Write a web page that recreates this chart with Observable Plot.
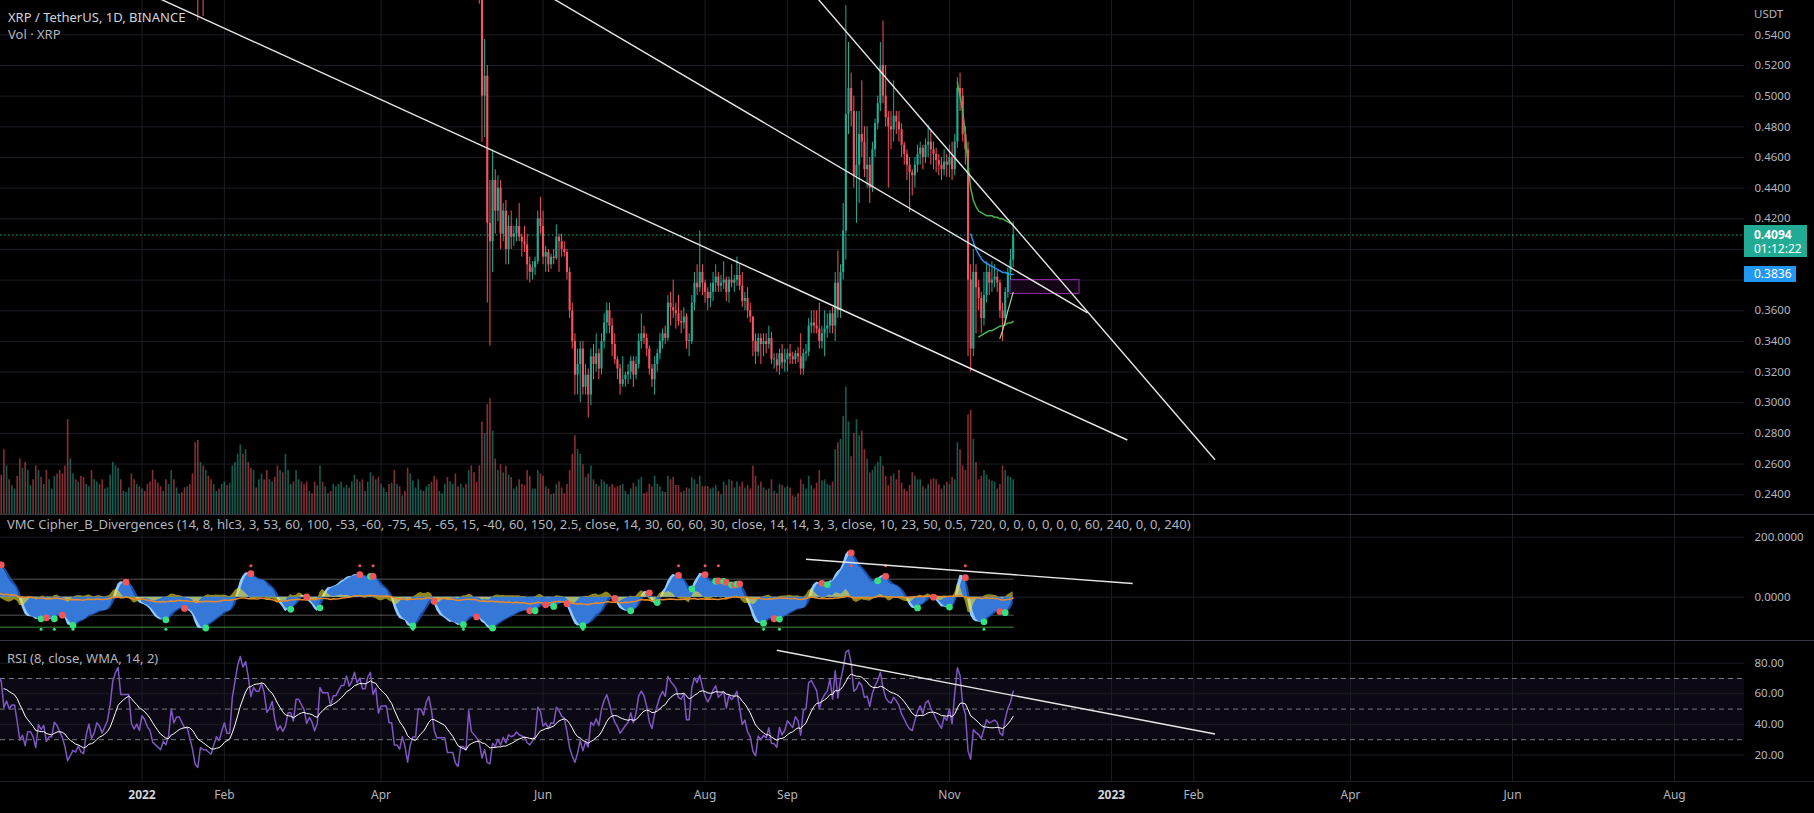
<!DOCTYPE html>
<html>
<head>
<meta charset="utf-8">
<script src="https://cdn.jsdelivr.net/npm/d3@7"></script>
<script src="https://cdn.jsdelivr.net/npm/@observablehq/plot@0.6"></script>
<style>
  html, body { margin:0; padding:0; background:#000; }
  #chart { position:relative; width:1814px; height:813px; background:#000; overflow:hidden; font-family:"Noto Sans", sans-serif; }
  #chart svg { position:absolute; left:0; }
  .t { position:absolute; white-space:nowrap; line-height:16px; height:16px; }
  .sep { position:absolute; left:0; width:1814px; height:1px; background:#363a45; }
  .tag { position:absolute; left:1744px; color:#fff; font-size:12px; box-sizing:border-box; padding-left:10px; }
</style>
</head>
<body>
<div id="chart"></div>
<script>
// ---------------- DATA (daily XRP/USDT, Binance) ----------------
const startDate = "2021-10-20";
const firstOpen = 1.12;
const closes = [
  // Oct 20 - Nov 9 2021
  1.10,1.09,1.06,1.10,1.09,1.11,1.10,1.00,1.05,1.08,1.10,1.08,1.12,1.10,1.18,1.18,1.20,1.23,1.26,1.25,1.24,
  // Nov 10 - 30
  1.18,1.20,1.18,1.19,1.19,1.15,1.08,1.09,1.04,1.07,1.07,1.05,1.00,1.05,1.03,1.04,0.97,0.98,0.98,1.01,1.00,
  // Dec
  0.98,0.96,0.92,0.82,0.83,0.84,0.83,0.84,0.81,0.80,0.83,0.85,0.80,0.81,0.83,0.82,0.80,0.81,0.82,0.85,0.92,0.96,0.99,0.93,0.93,0.93,0.93,0.86,0.84,0.85,0.83,
  // Jan 2022
  0.86,0.85,0.83,0.82,0.78,0.77,0.76,0.75,0.76,0.75,0.76,0.80,0.77,0.78,0.78,0.77,0.76,0.76,0.74,0.71,0.63,0.60,0.63,0.62,0.62,0.61,0.60,0.61,0.62,0.61,0.62,
  // Feb
  0.63,0.61,0.61,0.66,0.70,0.77,0.84,0.82,0.86,0.83,0.78,0.82,0.81,0.81,0.84,0.82,0.77,0.78,0.80,0.75,0.71,0.72,0.70,0.71,0.74,0.74,0.72,0.77,
  // Mar
  0.77,0.76,0.75,0.72,0.73,0.72,0.70,0.71,0.79,0.78,0.78,0.78,0.76,0.78,0.78,0.79,0.80,0.80,0.82,0.81,0.82,0.84,0.83,0.84,0.83,0.83,0.85,0.86,0.84,0.85,0.82,
  // Apr
  0.83,0.83,0.83,0.81,0.81,0.77,0.77,0.76,0.77,0.75,0.69,0.71,0.72,0.72,0.76,0.76,0.75,0.77,0.78,0.76,0.72,0.70,0.70,0.70,0.70,0.66,0.66,0.66,0.62,0.60,
  // May
  0.62,0.62,0.61,0.66,0.61,0.60,0.59,0.575,0.50,0.513,0.417,0.405,0.445,0.425,0.44,0.41,0.425,0.40,0.415,0.408,0.41,0.415,0.408,0.405,0.403,0.39,0.385,0.388,0.392,0.42,0.415,
  // Jun
  0.395,0.398,0.39,0.395,0.394,0.408,0.405,0.40,0.398,0.385,0.36,0.34,0.318,0.325,0.335,0.31,0.318,0.305,0.33,0.325,0.332,0.322,0.34,0.352,0.36,0.35,0.338,0.328,0.322,0.312,
  // Jul
  0.315,0.318,0.32,0.327,0.318,0.325,0.34,0.345,0.342,0.335,0.322,0.315,0.325,0.332,0.34,0.345,0.342,0.365,0.362,0.36,0.358,0.353,0.352,0.356,0.34,0.34,0.365,0.378,0.375,0.385,0.378,
  // Aug
  0.372,0.368,0.372,0.378,0.382,0.376,0.378,0.38,0.372,0.38,0.378,0.38,0.383,0.376,0.366,0.368,0.36,0.356,0.34,0.333,0.342,0.338,0.34,0.338,0.342,0.328,0.328,0.324,0.332,0.326,0.328,
  // Sep
  0.332,0.33,0.328,0.332,0.33,0.322,0.332,0.333,0.35,0.352,0.35,0.348,0.34,0.345,0.348,0.35,0.358,0.35,0.378,0.36,0.385,0.412,0.488,0.505,0.49,0.448,0.455,0.475,0.47,0.452,
  // Oct
  0.455,0.44,0.465,0.482,0.495,0.52,0.50,0.486,0.48,0.478,0.487,0.483,0.478,0.468,0.462,0.455,0.45,0.448,0.455,0.462,0.466,0.46,0.468,0.47,0.465,0.462,0.458,0.455,0.452,0.457,0.455,
  // Nov 1 - 25
  0.46,0.452,0.47,0.505,0.50,0.475,0.465,0.38,0.335,0.385,0.375,0.368,0.355,0.37,0.385,0.378,0.38,0.382,0.378,0.36,0.355,0.372,0.385,0.393,0.4094
];
const highs = [
  1.13,1.12,1.10,1.12,1.11,1.13,1.13,1.10,1.07,1.10,1.12,1.11,1.14,1.13,1.20,1.20,1.22,1.25,1.28,1.28,1.27,
  1.35,1.23,1.21,1.21,1.21,1.21,1.16,1.11,1.10,1.09,1.09,1.09,1.06,1.07,1.07,1.06,1.05,1.00,1.00,1.03,1.05,
  1.01,0.99,0.97,0.92,0.86,0.86,0.86,0.86,0.85,0.84,0.84,0.86,0.86,0.83,0.84,0.85,0.83,0.82,0.84,0.86,0.93,0.98,1.00,1.00,0.95,0.95,0.95,0.93,0.87,0.87,0.86,
  0.87,0.87,0.86,0.84,0.83,0.79,0.78,0.77,0.77,0.76,0.77,0.81,0.81,0.79,0.79,0.79,0.77,0.77,0.77,0.76,0.72,0.64,0.64,0.63,0.64,0.66,0.63,0.62,0.63,0.63,0.63,
  0.64,0.64,0.62,0.67,0.72,0.78,0.86,0.90,0.91,0.88,0.84,0.83,0.83,0.82,0.85,0.85,0.83,0.80,0.82,0.80,0.76,0.73,0.74,0.72,0.76,0.77,0.76,0.78,
  0.79,0.79,0.77,0.75,0.74,0.74,0.73,0.72,0.80,0.80,0.79,0.79,0.79,0.79,0.79,0.80,0.81,0.81,0.83,0.83,0.83,0.85,0.85,0.85,0.86,0.85,0.86,0.89,0.87,0.87,0.86,
  0.84,0.85,0.84,0.84,0.83,0.81,0.78,0.78,0.78,0.78,0.75,0.72,0.73,0.73,0.77,0.77,0.77,0.78,0.79,0.79,0.77,0.73,0.71,0.71,0.71,0.71,0.67,0.68,0.67,0.62,
  0.63,0.64,0.63,0.67,0.67,0.62,0.60,0.59,0.58,0.537,0.52,0.445,0.465,0.452,0.448,0.445,0.43,0.432,0.422,0.425,0.415,0.42,0.43,0.41,0.415,0.41,0.395,0.392,0.395,0.425,0.434,
  0.425,0.402,0.40,0.397,0.40,0.416,0.41,0.41,0.405,0.40,0.388,0.365,0.345,0.335,0.34,0.34,0.325,0.322,0.335,0.338,0.345,0.335,0.345,0.358,0.365,0.365,0.355,0.345,0.33,0.325,
  0.33,0.32,0.325,0.33,0.33,0.33,0.345,0.358,0.35,0.345,0.337,0.325,0.33,0.335,0.345,0.348,0.35,0.37,0.372,0.38,0.365,0.37,0.36,0.362,0.358,0.345,0.37,0.385,0.39,0.412,0.39,
  0.38,0.375,0.378,0.385,0.39,0.385,0.383,0.392,0.382,0.382,0.39,0.383,0.395,0.39,0.385,0.372,0.375,0.365,0.356,0.345,0.345,0.345,0.345,0.345,0.35,0.346,0.332,0.332,0.335,0.338,0.335,
  0.335,0.338,0.333,0.334,0.336,0.345,0.335,0.338,0.355,0.36,0.36,0.36,0.365,0.35,0.36,0.358,0.36,0.362,0.385,0.399,0.39,0.43,0.559,0.535,0.515,0.50,0.49,0.49,0.51,0.48,
  0.48,0.46,0.47,0.485,0.50,0.535,0.549,0.52,0.49,0.49,0.51,0.49,0.49,0.482,0.47,0.465,0.46,0.452,0.46,0.468,0.47,0.468,0.472,0.481,0.478,0.47,0.466,0.462,0.46,0.465,0.462,
  0.468,0.47,0.475,0.512,0.515,0.505,0.48,0.47,0.39,0.40,0.39,0.38,0.372,0.385,0.392,0.39,0.392,0.39,0.386,0.38,0.365,0.375,0.388,0.40,0.418
];
const lows = [
  1.07,1.07,1.03,1.05,1.07,1.08,1.08,0.98,0.99,1.04,1.07,1.06,1.07,1.08,1.10,1.15,1.17,1.19,1.22,1.22,1.21,
  1.14,1.16,1.15,1.16,1.17,1.14,1.06,1.04,1.00,1.03,1.05,1.04,0.99,0.98,1.01,1.01,0.96,0.95,0.95,0.97,0.98,
  0.95,0.95,0.90,0.60,0.78,0.78,0.81,0.81,0.80,0.78,0.79,0.82,0.77,0.78,0.79,0.81,0.79,0.78,0.80,0.80,0.84,0.90,0.94,0.92,0.91,0.91,0.91,0.85,0.82,0.82,0.82,
  0.82,0.83,0.82,0.80,0.76,0.74,0.74,0.73,0.73,0.72,0.74,0.75,0.76,0.76,0.77,0.76,0.75,0.74,0.73,0.70,0.60,0.549,0.57,0.552,0.59,0.60,0.58,0.59,0.60,0.60,0.60,
  0.61,0.60,0.59,0.60,0.65,0.69,0.76,0.78,0.81,0.81,0.76,0.77,0.79,0.78,0.80,0.81,0.76,0.76,0.77,0.74,0.68,0.69,0.69,0.60,0.70,0.73,0.71,0.70,
  0.75,0.75,0.74,0.71,0.72,0.71,0.69,0.69,0.71,0.76,0.76,0.77,0.75,0.75,0.76,0.77,0.78,0.78,0.79,0.80,0.80,0.81,0.81,0.82,0.82,0.82,0.82,0.84,0.83,0.83,0.81,
  0.81,0.81,0.82,0.80,0.79,0.76,0.75,0.74,0.75,0.74,0.68,0.68,0.69,0.71,0.71,0.74,0.74,0.74,0.76,0.75,0.71,0.69,0.69,0.69,0.66,0.65,0.64,0.65,0.61,0.59,
  0.59,0.60,0.60,0.60,0.60,0.58,0.58,0.56,0.47,0.473,0.365,0.337,0.385,0.41,0.418,0.40,0.405,0.39,0.39,0.40,0.402,0.405,0.405,0.395,0.398,0.38,0.378,0.38,0.383,0.39,0.41,
  0.39,0.385,0.385,0.387,0.39,0.393,0.385,0.395,0.395,0.38,0.355,0.335,0.305,0.305,0.30,0.305,0.305,0.29,0.298,0.315,0.32,0.315,0.318,0.335,0.345,0.345,0.33,0.325,0.315,0.305,
  0.31,0.31,0.312,0.315,0.31,0.315,0.322,0.335,0.338,0.33,0.318,0.31,0.305,0.32,0.328,0.335,0.338,0.34,0.35,0.355,0.348,0.35,0.345,0.348,0.335,0.33,0.338,0.36,0.37,0.372,0.37,
  0.365,0.36,0.362,0.366,0.372,0.372,0.372,0.374,0.366,0.365,0.375,0.372,0.376,0.373,0.362,0.36,0.355,0.352,0.33,0.325,0.33,0.325,0.33,0.332,0.335,0.325,0.322,0.32,0.318,0.322,0.32,
  0.32,0.325,0.325,0.325,0.326,0.318,0.318,0.327,0.33,0.345,0.345,0.345,0.335,0.335,0.33,0.342,0.345,0.345,0.34,0.355,0.355,0.38,0.393,0.475,0.48,0.44,0.417,0.43,0.46,0.447,
  0.44,0.43,0.437,0.46,0.478,0.49,0.495,0.48,0.44,0.465,0.47,0.475,0.47,0.46,0.455,0.445,0.424,0.435,0.44,0.45,0.455,0.452,0.456,0.46,0.455,0.452,0.45,0.448,0.445,0.448,0.447,
  0.447,0.445,0.448,0.466,0.49,0.47,0.455,0.33,0.32,0.33,0.345,0.36,0.345,0.35,0.365,0.37,0.372,0.375,0.372,0.355,0.34,0.35,0.368,0.38,0.388
];
// volume, millions of XRP
const volumes = [
  300,280,320,260,220,260,300,450,380,320,300,280,320,300,420,380,350,330,380,360,340,
  560,420,300,250,220,330,480,400,450,380,250,300,420,380,320,260,380,300,220,330,350,
  380,350,420,820,480,350,300,280,330,320,260,240,380,300,280,260,300,220,230,340,450,420,400,300,200,190,230,350,300,260,240,
  220,200,260,280,380,300,270,240,200,300,260,380,300,230,180,190,230,240,260,350,620,640,450,420,380,330,300,260,200,220,260,
  280,250,270,420,450,520,600,520,560,450,400,380,230,300,350,300,380,300,280,320,420,380,360,520,380,260,280,380,
  300,280,260,280,200,180,280,250,420,280,240,180,200,260,240,260,280,230,250,230,280,340,300,280,300,200,280,360,330,300,320,
  260,230,190,260,270,380,260,240,160,200,400,350,290,230,300,210,200,240,260,280,330,300,200,180,260,320,280,260,350,240,
  260,230,260,380,420,360,280,420,800,700,950,1000,720,480,380,430,360,420,340,320,220,240,300,260,250,380,330,220,220,380,350,
  330,240,220,170,180,260,280,230,180,260,380,520,680,560,520,430,320,350,420,300,260,240,300,280,260,240,260,230,240,250,
  260,200,170,220,270,240,300,320,180,190,260,240,330,260,240,200,190,330,300,320,250,250,190,200,230,220,320,300,260,330,240,
  240,240,220,230,250,200,170,280,250,300,290,230,280,240,280,230,250,220,420,330,250,280,230,210,220,300,200,180,260,250,230,
  240,230,160,150,180,300,260,220,330,250,220,270,380,290,300,260,250,280,560,620,650,850,1100,800,500,700,820,680,720,560,
  480,360,380,420,450,500,420,330,250,330,350,300,380,270,220,200,250,360,330,300,300,240,220,260,300,310,300,260,220,250,280,
  260,320,300,620,560,420,380,860,900,650,450,300,330,380,340,300,290,280,220,260,420,380,330,320,300
];

// indicator lines on the price pane
const upperGreenStart = "2022-11-04";
const upperGreen = [0.509,0.50,0.49,0.475,0.455,0.44,0.432,0.428,0.425,0.424,0.423,0.422,0.422,0.422,0.421,0.421,0.42,0.42,0.419,0.418,0.417,0.416];
const blueLineStart = "2022-11-09";
const blueLine = [0.41,0.405,0.40,0.397,0.394,0.392,0.391,0.39,0.389,0.388,0.387,0.386,0.385,0.385,0.384,0.3838,0.3836];
const lowerGreenStart = "2022-11-12";
const lowerGreen = [0.343,0.344,0.345,0.346,0.347,0.347,0.348,0.349,0.35,0.35,0.351,0.352,0.352,0.353];
const lightGreenStart = "2022-11-20";
const lightGreen = [0.342,0.347,0.353,0.36,0.366,0.372];

// drawings
const priceTrendlines = [
  {x1:"2022-01-01", y1:0.5688, x2:"2023-01-07", y2:0.2757},
  {x1:"2022-05-27", y1:0.5726, x2:"2022-12-23", y2:0.3586},
  {x1:"2022-09-08", y1:0.5725, x2:"2023-02-09", y2:0.2628}
];
const priceBoxes = [{x1:"2022-11-24", x2:"2022-12-20", y1:0.371, y2:0.380}];
const vmcTrendlines = [{x1:"2022-09-08", y1:126.5, x2:"2023-01-09", y2:45.7}];
const rsiTrendlines = [{x1:"2022-08-28", y1:88.4, x2:"2023-02-09", y2:33.7}];

// axes
const priceTicks = [0.24,0.26,0.28,0.30,0.32,0.34,0.36,0.38,0.40,0.42,0.44,0.46,0.48,0.50,0.52,0.54];
const priceLabelTicks = [0.24,0.26,0.28,0.30,0.32,0.34,0.36,0.42,0.44,0.46,0.48,0.50,0.52,0.54]; // 0.38 / 0.40 sit under the price tags
const vmcTicks = [200, 0];
const rsiTicks = [80, 60, 40, 20];
const rsiLevels = [70, 50, 30];
const vmcGreyLevels = [60, -60];
const vmcLowLevel = -100;
const monthTicks = ["2022-02-01","2022-04-01","2022-06-01","2022-08-01","2022-09-01","2022-11-01","2023-02-01","2023-04-01","2023-06-01","2023-08-01"].map(d => new Date(d));
const yearTicks = ["2022-01-01","2023-01-01"].map(d => new Date(d));
const lastPrice = 0.4094;
const bluePrice = 0.3836;

// ---------------- BUILD ----------------
const UP = "#22ab94", DOWN = "#f7525f";
const day = 864e5, jan1 = Date.UTC(2022, 0, 1);
const xDomain = [new Date(jan1 - 53.28 * day), new Date(jan1 + 603.35 * day)];
const W = 1814, PR = 1744;
const toD = s => new Date(s);
const seq = (start, arr) => arr.map((v, i) => ({date: d3.utcDay.offset(new Date(start), i), v}));

const candles = closes.map((c, i) => ({
  date: d3.utcDay.offset(new Date(startDate), i),
  open: i ? closes[i - 1] : firstOpen,
  high: highs[i], low: lows[i], close: c, volume: volumes[i]
}));
const col = d => d.close >= d.open ? UP : DOWN;

// indicators
function emaArr(src, len) { const a = 2 / (len + 1); let p = NaN; return src.map(v => (p = isNaN(p) ? v : a * v + (1 - a) * p)); }
function smaArr(src, len) { return src.map((v, i) => { if (i < len - 1) return NaN; let s = 0; for (let k = 0; k < len; k++) s += src[i - k]; return s / len; }); }
function rsiArr(src, len) {
  const out = src.map(() => NaN); let ag = 0, al = 0;
  for (let i = 1; i < src.length; i++) {
    const ch = src[i] - src[i - 1], g = Math.max(ch, 0), l = Math.max(-ch, 0);
    if (i <= len) { ag += g / len; al += l / len; if (i < len) continue; }
    else { ag = (ag * (len - 1) + g) / len; al = (al * (len - 1) + l) / len; }
    out[i] = al === 0 ? 100 : 100 - 100 / (1 + ag / al);
  }
  return out;
}
function wmaArr(src, len) {
  return src.map((v, i) => { if (i < len - 1) return NaN; let s = 0, w = 0;
    for (let k = 0; k < len; k++) { const x = src[i - k]; if (isNaN(x)) return NaN; s += x * (len - k); w += len - k; } return s / w; });
}
const rsi = rsiArr(closes, 8);
const rsiMa = wmaArr(rsi, 14);
const rsiData = candles.map((d, i) => ({date: d.date, rsi: rsi[i], ma: rsiMa[i]}));

// WaveTrend (VMC Cipher B: 14, 8, hlc3, 3)
const hlc3 = candles.map(d => (d.high + d.low + d.close) / 3);
const esa = emaArr(hlc3, 14);
const de = emaArr(hlc3.map((v, i) => Math.abs(v - esa[i])), 14);
const ci = hlc3.map((v, i) => de[i] ? (v - esa[i]) / (0.015 * de[i]) : 0);
const wt1 = emaArr(ci, 8);
const wt2 = smaArr(wt1, 3);
const mfiRaw = candles.map(d => d.high > d.low ? (d.close - d.open) / (d.high - d.low) * 150 : 0);
const mfi = mfiRaw.map((v, i) => d3.mean(mfiRaw.slice(Math.max(0, i - 59), i + 1)) - 2.5);
const vmc = candles.map((d, i) => ({date: d.date, wt1: wt1[i], wt2: wt2[i], vw: wt1[i] - wt2[i], mfi: mfi[i]}));
const crosses = [], buys = [], sells = [];
for (let i = 1; i < vmc.length; i++) {
  const a = vmc[i - 1].vw, b = vmc[i].vw;
  if (isNaN(a) || isNaN(b)) continue;
  if (a <= 0 && b > 0) { crosses.push({date: vmc[i].date, y: wt2[i], c: "#35e07f"}); if (wt2[i] <= -53) buys.push({date: vmc[i].date, y: -107}); }
  if (a >= 0 && b < 0) { crosses.push({date: vmc[i].date, y: wt2[i], c: "#f2545b"}); if (wt2[i] >= 53) sells.push({date: vmc[i].date, y: 105}); }
}
// level series drawn only where the indicator has bars
const levelRows = (lv) => candles.map(d => ({date: d.date, v: lv}));

const chart = document.getElementById("chart");
const baseStyle = {background: "transparent", color: "#b2b5be", fontFamily: "'Noto Sans', sans-serif", fontSize: "11.5px", overflow: "hidden"};
function place(svg, top) { svg.style.top = top + "px"; chart.appendChild(svg); return svg; }
const gridCol = "#1a1d24";
const links = arr => arr.map(d => ({x1: toD(d.x1), x2: toD(d.x2), y1: d.y1, y2: d.y2}));

// price pane: grid layer
place(Plot.plot({
  width: W, height: 514, marginLeft: 0, marginRight: W - PR, marginTop: 0, marginBottom: 0,
  x: {type: "utc", domain: xDomain, axis: null}, y: {domain: [0.2271, 0.5624], axis: null}, style: baseStyle,
  marks: [
    Plot.gridY(priceTicks, {stroke: gridCol, strokeOpacity: 1}),
    Plot.gridX([...yearTicks, ...monthTicks], {stroke: gridCol, strokeOpacity: 1})
  ]
}), 0);

// volume layer
place(Plot.plot({
  width: W, height: 514, marginLeft: 0, marginRight: W - PR, marginTop: 0, marginBottom: 0,
  x: {type: "utc", domain: xDomain, axis: null}, y: {domain: [0, 4442], axis: null}, style: baseStyle,
  marks: [Plot.ruleX(candles, {x: "date", y1: 0, y2: "volume", stroke: col, strokeOpacity: 0.55, strokeWidth: 1.6, clip: true})]
}), 0);

// candles & drawings
const mainPlot = place(Plot.plot({
  width: W, height: 514, marginLeft: 0, marginRight: W - PR, marginTop: 0, marginBottom: 0,
  x: {type: "utc", domain: xDomain, axis: null}, y: {domain: [0.2271, 0.5624]}, style: baseStyle,
  marks: [
    Plot.ruleY([lastPrice], {stroke: UP, strokeDasharray: "1.5,2.5", strokeWidth: 1}),
    Plot.rect(links(priceBoxes), {x1: "x1", x2: "x2", y1: "y1", y2: "y2", stroke: "#9c27b0", strokeWidth: 1, fill: "#9c27b0", fillOpacity: 0.12, clip: true}),
    Plot.ruleX(candles, {x: "date", y1: "low", y2: "high", stroke: col, strokeWidth: 1, clip: true}),
    Plot.ruleX(candles, {x: "date", y1: "open", y2: d => Math.abs(d.close - d.open) < 0.0006 ? d.open + 0.0006 : d.close, stroke: col, strokeWidth: 2.1, clip: true}),
    Plot.lineY(seq(upperGreenStart, upperGreen), {x: "date", y: "v", stroke: "#4caf50", strokeWidth: 1.5, clip: true}),
    Plot.lineY(seq(blueLineStart, blueLine), {x: "date", y: "v", stroke: "#2196f3", strokeWidth: 1.5, clip: true}),
    Plot.lineY(seq(lowerGreenStart, lowerGreen), {x: "date", y: "v", stroke: "#4caf50", strokeWidth: 1.5, clip: true}),
    Plot.lineY(seq(lightGreenStart, lightGreen), {x: "date", y: "v", stroke: "#a5d6a7", strokeWidth: 1.2, clip: true}),
    Plot.link(links(priceTrendlines), {x1: "x1", y1: "y1", x2: "x2", y2: "y2", stroke: "#e6e6e6", strokeWidth: 1.4, clip: true}),
    Plot.axisY(priceLabelTicks, {anchor: "right", tickSize: 0, tickPadding: 10, tickFormat: d => d.toFixed(4), fill: "#b2b5be"})
  ]
}), 0);

// VMC pane
place(Plot.plot({
  width: W, height: 126, marginLeft: 0, marginRight: W - PR, marginTop: 0, marginBottom: 0,
  x: {type: "utc", domain: xDomain, axis: null}, y: {domain: [-144.3, 275.7]}, style: baseStyle,
  marks: [
    Plot.gridY(vmcTicks, {stroke: gridCol, strokeOpacity: 1}),
    Plot.gridX([...yearTicks, ...monthTicks], {stroke: gridCol, strokeOpacity: 1}),
    ...vmcGreyLevels.map(lv => Plot.lineY(levelRows(lv), {x: "date", y: "v", stroke: "#ffffff", strokeOpacity: 0.22, clip: true})),
    Plot.lineY(levelRows(vmcLowLevel), {x: "date", y: "v", stroke: "#2f6b2f", strokeOpacity: 0.9, clip: true}),
    Plot.areaY(vmc, {x: "date", y: "wt1", fill: "#90caf9", clip: true}),
    Plot.areaY(vmc, {x: "date", y: "wt2", fill: "#1e63d0", fillOpacity: 0.8, clip: true}),
    Plot.areaY(vmc, {x: "date", y: "vw", fill: "#f0e030", fillOpacity: 0.6, clip: true}),
    Plot.lineY(vmc, {x: "date", y: "mfi", stroke: "#e8892a", strokeWidth: 1.5, clip: true}),
    Plot.dot(crosses, {x: "date", y: "y", r: 3.4, fill: "c", stroke: null, clip: true}),
    Plot.dot(buys, {x: "date", y: "y", r: 1.5, fill: "#35e07f", clip: true}),
    Plot.dot(sells, {x: "date", y: "y", r: 1.5, fill: "#f2545b", clip: true}),
    Plot.link(links(vmcTrendlines), {x1: "x1", y1: "y1", x2: "x2", y2: "y2", stroke: "#e6e6e6", strokeWidth: 1.4, clip: true}),
    Plot.axisY(vmcTicks, {anchor: "right", tickSize: 0, tickPadding: 10, tickFormat: d => d.toFixed(4), fill: "#b2b5be"})
  ]
}), 514);

// RSI pane + time axis
place(Plot.plot({
  width: W, height: 173, marginLeft: 0, marginRight: W - PR, marginTop: 0, marginBottom: 32,
  x: {type: "utc", domain: xDomain}, y: {domain: [2.7, 94.8]}, style: baseStyle,
  marks: [
    Plot.rect([{x1: xDomain[0], x2: xDomain[1], y1: rsiLevels[2], y2: rsiLevels[0]}], {x1: "x1", x2: "x2", y1: "y1", y2: "y2", fill: "#7e57c2", fillOpacity: 0.1}),
    Plot.gridY(rsiTicks, {stroke: gridCol, strokeOpacity: 1}),
    Plot.gridX([...yearTicks, ...monthTicks], {stroke: gridCol, strokeOpacity: 1}),
    Plot.ruleY(rsiLevels, {stroke: "#787b86", strokeDasharray: "5,4", strokeWidth: 1}),
    Plot.lineY(rsiData, {x: "date", y: "rsi", stroke: "#7e57c2", strokeWidth: 1.5, clip: true}),
    Plot.lineY(rsiData, {x: "date", y: "ma", stroke: "#ffffff", strokeWidth: 1, clip: true}),
    Plot.link(links(rsiTrendlines), {x1: "x1", y1: "y1", x2: "x2", y2: "y2", stroke: "#e6e6e6", strokeWidth: 1.4, clip: true}),
    Plot.axisY(rsiTicks, {anchor: "right", tickSize: 0, tickPadding: 10, tickFormat: d => d.toFixed(2), fill: "#b2b5be"}),
    Plot.axisX(monthTicks, {anchor: "bottom", tickSize: 0, tickPadding: 9, tickFormat: d3.utcFormat("%b"), fill: "#b2b5be", fontSize: 12}),
    Plot.axisX(yearTicks, {anchor: "bottom", tickSize: 0, tickPadding: 9, tickFormat: d3.utcFormat("%Y"), fill: "#d1d4dc", fontWeight: "bold", fontSize: 12})
  ]
}), 640);

// separators
[514, 640, 781].forEach(y => { const s = document.createElement("div"); s.className = "sep"; s.style.top = y + "px"; if (y === 781) s.style.background = "#1f222a"; chart.appendChild(s); });

// legends
function label(str, left, cy, size, color, weight) {
  const d = document.createElement("div"); d.className = "t"; d.textContent = str;
  d.style.left = left + "px"; d.style.top = (cy - 8) + "px"; d.style.fontSize = size + "px"; d.style.color = color;
  if (weight) d.style.fontWeight = weight; chart.appendChild(d); return d;
}
label("XRP / TetherUS, 1D, BINANCE", 8, 17, 13, "#d1d4dc");
label("Vol · XRP", 8, 33.5, 13, "#b2b5be");
label("VMC Cipher_B_Divergences (14, 8, hlc3, 3, 53, 60, 100, -53, -60, -75, 45, -65, 15, -40, 60, 150, 2.5, close, 14, 30, 60, 60, 30, close, 14, 14, 3, 3, close, 10, 23, 50, 0.5, 720, 0, 0, 0, 0, 0, 0, 60, 240, 0, 0, 240)", 7, 524, 13, "#b2b5be");
label("RSI (8, close, WMA, 14, 2)", 7, 658, 13, "#b2b5be");
label("USDT", 1754, 14, 11.5, "#b2b5be");

// price tags on the axis
const ys = mainPlot.scale("y");
const yLast = ys.apply(lastPrice), yBlue = ys.apply(bluePrice);
const g = document.createElement("div"); g.className = "tag";
g.style.top = (yLast - 9.3) + "px"; g.style.width = "63px"; g.style.height = "31.6px"; g.style.background = UP;
g.innerHTML = '<div style="position:absolute;left:10px;top:1px;line-height:17px;font-weight:bold">' + lastPrice.toFixed(4) + '</div><div style="position:absolute;left:10px;top:14.5px;line-height:17px">01:12:22</div>';
chart.appendChild(g);
const b = document.createElement("div"); b.className = "tag";
b.style.top = (yBlue - 8.3) + "px"; b.style.width = "52px"; b.style.height = "16.7px"; b.style.background = "#2196f3"; b.style.lineHeight = "16.7px";
b.textContent = bluePrice.toFixed(4);
chart.appendChild(b);
</script>
</body>
</html>
